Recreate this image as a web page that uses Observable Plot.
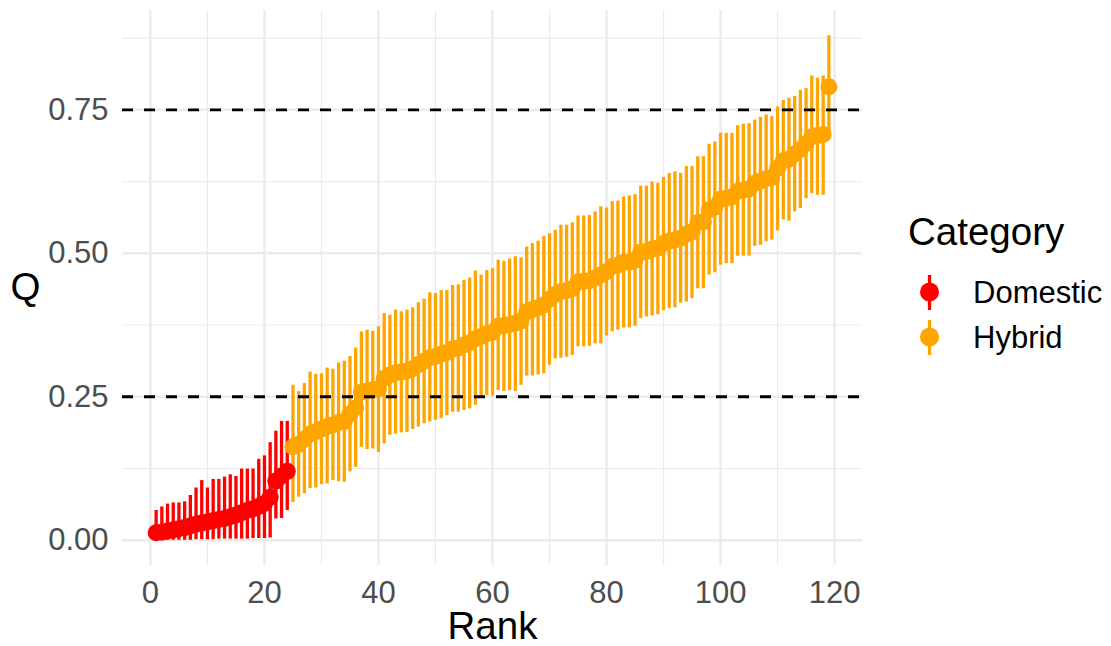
<!DOCTYPE html>
<html><head><meta charset="utf-8">
<script src="https://cdn.jsdelivr.net/npm/d3@7"></script>
<script src="https://cdn.jsdelivr.net/npm/@observablehq/plot@0.6"></script>
<style>
html,body{margin:0;padding:0;background:#fff;}
#wrap{position:relative;width:1111px;height:646px;overflow:hidden;font-family:"Liberation Sans",Arial,Helvetica,sans-serif;}
#chart{position:absolute;left:0;top:0;}
#legend{position:absolute;left:880px;top:0;}
</style></head><body>
<div id="wrap"><div id="chart"></div><div id="legend"></div></div>
<script>
const categories = ["Domestic", "Hybrid"];
const categoryColors = ["#FF0000", "#FFA500"];

// Domestic (ranks 1-24)
const domesticQ = [0.013,0.014,0.016,0.018,0.020,0.022,0.025,0.028,0.030,0.032,
  0.034,0.036,0.038,0.041,0.044,0.048,0.052,0.055,0.059,0.064,
  0.075,0.103,0.112,0.120];
const domesticLow = [0,0,0,0,0,0,0,0.001,0.001,0.001,
  0.001,0.002,0.002,0.002,0.002,0.002,0.002,0.003,0.003,0.003,
  0.004,0.037,0.038,0.052];
const domesticHigh = [0.052,0.058,0.063,0.065,0.065,0.067,0.078,0.091,0.104,0.091,
  0.106,0.106,0.110,0.114,0.111,0.124,0.124,0.124,0.141,0.147,
  0.170,0.190,0.207,0.207];

// Hybrid (ranks 25-119)
const hybridQ = [0.163,0.167,0.176,0.185,0.189,0.194,0.198,0.201,0.205,0.207,
  0.220,0.231,0.258,0.260,0.262,0.264,0.282,0.288,0.292,0.293,
  0.295,0.299,0.306,0.312,0.318,0.320,0.324,0.327,0.333,0.335,
  0.340,0.344,0.351,0.355,0.360,0.362,0.373,0.374,0.376,0.378,
  0.382,0.398,0.402,0.405,0.410,0.420,0.428,0.433,0.435,0.438,
  0.450,0.451,0.452,0.457,0.462,0.468,0.477,0.479,0.484,0.485,
  0.488,0.502,0.503,0.507,0.509,0.517,0.521,0.523,0.526,0.533,
  0.537,0.553,0.555,0.576,0.580,0.594,0.596,0.598,0.608,0.610,
  0.612,0.622,0.626,0.630,0.632,0.648,0.661,0.664,0.673,0.681,
  0.691,0.703,0.705,0.707,0.790];
const hybridLow = [0.066,0.075,0.081,0.090,0.091,0.097,0.098,0.104,0.102,0.101,
  0.119,0.127,0.162,0.158,0.159,0.153,0.168,0.183,0.185,0.187,
  0.188,0.193,0.197,0.203,0.206,0.209,0.212,0.217,0.223,0.223,
  0.226,0.229,0.235,0.247,0.252,0.251,0.261,0.259,0.261,0.259,
  0.270,0.286,0.286,0.288,0.290,0.305,0.316,0.317,0.319,0.322,
  0.337,0.337,0.338,0.342,0.342,0.356,0.363,0.366,0.370,0.370,
  0.373,0.386,0.389,0.391,0.393,0.400,0.404,0.405,0.413,0.415,
  0.421,0.438,0.438,0.462,0.466,0.479,0.482,0.482,0.495,0.495,
  0.495,0.512,0.514,0.520,0.523,0.539,0.558,0.556,0.572,0.578,
  0.595,0.604,0.601,0.601,0.700];
const hybridHigh = [0.270,0.259,0.273,0.293,0.289,0.290,0.300,0.298,0.309,0.312,
  0.320,0.335,0.363,0.366,0.364,0.372,0.395,0.392,0.401,0.398,
  0.401,0.405,0.414,0.420,0.431,0.430,0.435,0.435,0.444,0.445,
  0.453,0.457,0.469,0.462,0.470,0.473,0.488,0.486,0.490,0.494,
  0.492,0.511,0.517,0.521,0.529,0.534,0.540,0.549,0.549,0.553,
  0.565,0.565,0.566,0.572,0.581,0.579,0.590,0.591,0.598,0.600,
  0.602,0.617,0.617,0.624,0.622,0.632,0.639,0.642,0.639,0.651,
  0.651,0.668,0.668,0.690,0.694,0.709,0.709,0.709,0.722,0.725,
  0.726,0.732,0.737,0.741,0.738,0.755,0.766,0.770,0.773,0.784,
  0.787,0.809,0.805,0.809,0.879];

const xTicks = [0, 20, 40, 60, 80, 100, 120];
const xMinor = [10, 30, 50, 70, 90, 110];
const yTicks = [0, 0.25, 0.5, 0.75];
const yMinor = [0.125, 0.375, 0.625, 0.875];
const thresholds = [0.25, 0.75];

// Build table; Rank is the position in the ascending ordering
const rows = [];
[[domesticQ, domesticLow, domesticHigh, categories[0]],
 [hybridQ, hybridLow, hybridHigh, categories[1]]].forEach(([q, lo, hi, cat]) => {
  q.forEach((v, i) => rows.push({Q: v, lower: lo[i], upper: hi[i], Category: cat}));
});
rows.forEach((d, i) => { d.Rank = i + 1; });

const font = '"Liberation Sans", Arial, Helvetica, sans-serif';
const grid = "#EBEBEB";

const chart = Plot.plot({
  width: 880,
  height: 646,
  marginLeft: 122,
  marginRight: 18,
  marginTop: 10,
  marginBottom: 81,
  style: {fontFamily: font, background: "transparent", overflow: "visible"},
  x: {domain: [-4.9, 124.9]},
  y: {domain: [-0.044, 0.923]},
  color: {domain: categories, range: categoryColors},
  marks: [
    Plot.gridX(xMinor, {stroke: grid, strokeOpacity: 1, strokeWidth: 1.2}),
    Plot.gridY(yMinor, {stroke: grid, strokeOpacity: 1, strokeWidth: 1.2}),
    Plot.gridX(xTicks, {stroke: grid, strokeOpacity: 1, strokeWidth: 2.4}),
    Plot.gridY(yTicks, {stroke: grid, strokeOpacity: 1, strokeWidth: 2.4}),
    Plot.ruleX(rows, {x: "Rank", y1: "lower", y2: "upper", stroke: "Category", strokeWidth: 3.3}),
    Plot.dot(rows, {x: "Rank", y: "Q", fill: "Category", r: 8.5}),
    Plot.ruleY(thresholds, {stroke: "black", strokeWidth: 2.8, strokeDasharray: "11,11"}),
    Plot.axisX({ticks: xTicks, tickSize: 0, tickPadding: 15, fontSize: 31, color: "#4D4D4D", label: null}),
    Plot.axisY({ticks: yTicks, tickSize: 0, tickPadding: 14, fontSize: 31, color: "#4D4D4D",
      tickFormat: d3.format(".2f"), label: null}),
    Plot.text(["Rank"], {text: d => d, frameAnchor: "bottom", dy: 73, fontSize: 38.5, fill: "black"}),
    Plot.text(["Q"], {text: d => d, frameAnchor: "left", dx: -112, textAnchor: "start", fontSize: 38.5, fill: "black"})
  ]
});
document.getElementById("chart").appendChild(chart);

// Legend (pointrange key glyphs)
const leg = d3.select("#legend").append("svg")
  .attr("width", 231).attr("height", 646)
  .style("font-family", font);
leg.append("text").attr("x", 28).attr("y", 245)
  .attr("font-size", 38.5).attr("fill", "black").text("Category");
categories.forEach((c, i) => {
  const cy = 292 + 45 * i;
  const g = leg.append("g");
  g.append("line").attr("x1", 49.5).attr("x2", 49.5).attr("y1", cy - 17).attr("y2", cy + 18)
    .attr("stroke", categoryColors[i]).attr("stroke-width", 3.3);
  g.append("circle").attr("cx", 49.5).attr("cy", cy).attr("r", 9.5).attr("fill", categoryColors[i]);
  g.append("text").attr("x", 93).attr("y", cy + 11).attr("font-size", 31).attr("fill", "black").text(c);
});
</script>
</body></html>
